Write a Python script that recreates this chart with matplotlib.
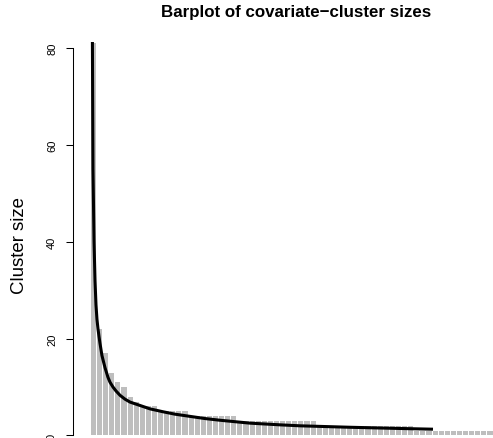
import numpy as np
import matplotlib
matplotlib.use("Agg")
import matplotlib.pyplot as plt

plt.rcParams['font.family'] = ['Liberation Sans', 'DejaVu Sans']

# cluster sizes, sorted decreasing
sizes = ([81, 22, 17, 13, 11, 10, 8, 7] + [6] * 3 + [5] * 5 + [4] * 8
         + [3] * 13 + [2] * 16 + [1] * 13)

# fitted curve at positions given in bar units
curve_x = [-0.20, -0.09, 0.08, 0.24, 0.40, 0.56, 0.73, 0.89, 1.06, 1.38,
           1.88, 2.37, 2.70, 3.19, 3.68, 4.34, 5.16, 5.98, 7.62, 9.25,
           11.39, 13.36, 15.81, 18.27, 20.73, 25.65, 30.57, 33.85, 42.04,
           50.24, 55.65]
curve_y = [85, 55, 40, 32, 27, 24, 22, 20.5, 19, 16.5,
           14, 12, 11, 10, 9.2, 8.3, 7.5, 6.9, 6.2, 5.5,
           4.9, 4.4, 3.95, 3.5, 3.15, 2.55, 2.2, 2.0, 1.7,
           1.45, 1.3]

yticks = [0, 20, 40, 60, 80]

W, H = 493, 439
fig = plt.figure(figsize=(W / 100, H / 100), dpi=100)
ax = fig.add_axes([73 / W, 0, 1 - 73 / W, (439 - 43) / H])

idx = np.arange(len(sizes))
ax.bar(idx, sizes, width=1 / 1.2, color='#bebebe', linewidth=0)
ax.plot(curve_x, curve_y, color='black', lw=2.2, solid_capstyle='butt',
        solid_joinstyle='round')

ax.set_xlim(-3.368, 65.49)
ax.set_ylim(-2.5 / 4.84, 80 + 6 / 4.84)

for s in ['top', 'right', 'bottom']:
    ax.spines[s].set_visible(False)
ax.spines['left'].set_bounds(0, 80)
ax.spines['left'].set_linewidth(0.75)
ax.set_xticks([])
ax.set_yticks(yticks)
ax.set_yticklabels([str(t) for t in yticks], rotation=90, va='center', fontsize=8)
ax.tick_params(axis='y', length=5, width=0.75, pad=6.5)

fig.text(20 / W, 1 - 245 / H, 'Cluster size', rotation=90, ha='center', va='center', fontsize=13.4)
fig.text(296 / W, 1 - 12 / H, 'Barplot of covariate\u2212cluster sizes', ha='center', va='center',
         fontsize=12.2, fontweight='bold')

fig.savefig('out.png', dpi=100)
